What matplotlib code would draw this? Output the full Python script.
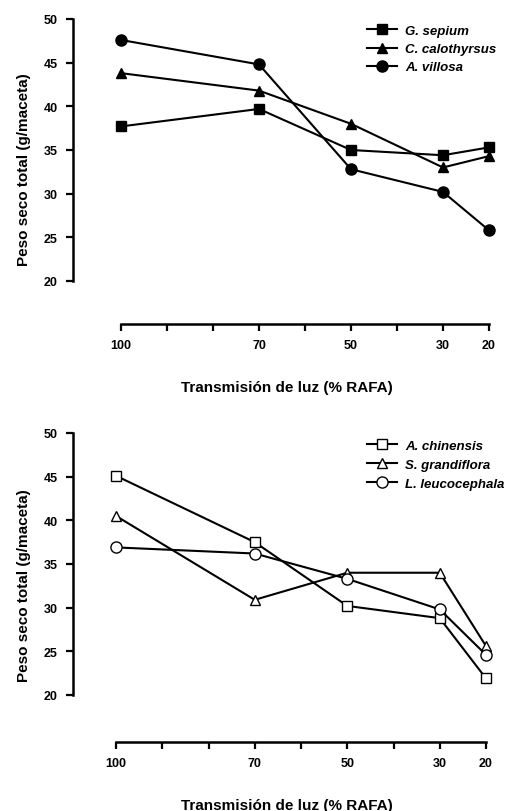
import matplotlib
matplotlib.use('Agg')
import matplotlib.pyplot as plt

plt.rcParams['font.family'] = ['Liberation Sans', 'DejaVu Sans']
plt.rcParams['font.weight'] = 'bold'

# luz transmitida (% RAFA)
luz = [100, 70, 50, 30, 20]

# panel superior
g_sepium = [37.7, 39.7, 35.0, 34.4, 35.3]
c_calothyrsus = [43.8, 41.8, 38.0, 33.0, 34.3]
a_villosa = [47.6, 44.8, 32.8, 30.2, 25.8]

# panel inferior
a_chinensis = [45.1, 37.5, 30.2, 28.8, 21.9]
s_grandiflora = [40.5, 30.9, 34.0, 34.0, 25.6]
l_leucocephala = [36.9, 36.2, 33.3, 29.8, 24.6]

nombres_sup = ['G. sepium', 'C. calothyrsus', 'A. villosa']
nombres_inf = ['A. chinensis', 'S. grandiflora', 'L. leucocephala']

xticks_major = [100, 90, 80, 70, 60, 50, 40, 30, 20]
xtick_labels = ['100', '', '', '70', '', '50', '', '30', '20']
yticks = [20, 25, 30, 35, 40, 45, 50]

W, H = 511, 812
fig = plt.figure(figsize=(W / 100, H / 100), dpi=100)


def make_ax(left_px, right_px, top_px, bottom_px, x100_px, x20_px, y50_px, y20_px):
    ax = fig.add_axes([left_px / W, 1 - bottom_px / H,
                       (right_px - left_px) / W, (bottom_px - top_px) / H])
    sx = (x20_px - x100_px) / 80.0
    sy = (y20_px - y50_px) / 30.0
    ax.set_xlim(100 + (x100_px - left_px) / sx, 20 - (right_px - x20_px) / sx)
    ax.set_ylim(20 - (bottom_px - y20_px) / sy, 50 + (y50_px - top_px) / sy)
    for s in ['top', 'right']:
        ax.spines[s].set_visible(False)
    ax.spines['left'].set_bounds(20, 50)
    ax.spines['bottom'].set_bounds(100, 20)
    for s in ['left', 'bottom']:
        ax.spines[s].set_linewidth(1.8)
    ax.set_xticks(xticks_major)
    ax.set_xticklabels(xtick_labels)
    ax.set_yticks(yticks)
    ax.tick_params(width=1.6, length=5, labelsize=9, pad=6)
    ax.set_xlabel('Transmisión de luz (% RAFA)', fontsize=11, fontweight='bold', labelpad=21)
    ax.set_ylabel('Peso seco total (g/maceta)', fontsize=11, fontweight='bold', labelpad=9)
    return ax


ax1 = make_ax(73, 500, 14, 325, 121, 489, 20, 282)
kw = dict(color='black', linewidth=1.5)
ax1.plot(luz, g_sepium, marker='s', markersize=6.5, label=nombres_sup[0], **kw)
ax1.plot(luz, c_calothyrsus, marker='^', markersize=7, label=nombres_sup[1], **kw)
ax1.plot(luz, a_villosa, marker='o', markersize=8, label=nombres_sup[2], **kw)
leg1 = ax1.legend(loc='upper left', bbox_to_anchor=(355 / W, 1 - 14 / H),
                  bbox_transform=fig.transFigure, frameon=False, handlelength=2.3,
                  handletextpad=0.6, labelspacing=0.45,
                  prop={'size': 9.5, 'weight': 'bold', 'style': 'italic'})

ax2 = make_ax(73, 500, 428, 743, 116, 486, 434, 696)
ax2.plot(luz, a_chinensis, marker='s', markersize=7, markerfacecolor='white', label=nombres_inf[0], **kw)
ax2.plot(luz, s_grandiflora, marker='^', markersize=7.5, markerfacecolor='white', label=nombres_inf[1], **kw)
ax2.plot(luz, l_leucocephala, marker='o', markersize=8, markerfacecolor='white', label=nombres_inf[2], **kw)
leg2 = ax2.legend(loc='upper left', bbox_to_anchor=(355 / W, 1 - 429 / H),
                  bbox_transform=fig.transFigure, frameon=False, handlelength=2.3,
                  handletextpad=0.6, labelspacing=0.5,
                  prop={'size': 9.5, 'weight': 'bold', 'style': 'italic'})

fig.savefig('out.png', dpi=100)
